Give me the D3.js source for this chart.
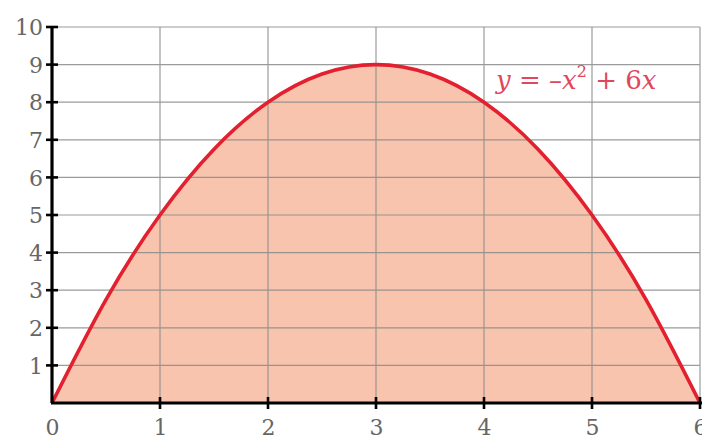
<!DOCTYPE html>
<html><head><meta charset="utf-8">
<script src="https://cdn.jsdelivr.net/npm/d3@7"></script>
<style>html,body{margin:0;padding:0;background:#fff;overflow:hidden}</style>
</head><body>
<svg id="c" width="702" height="436"></svg>
<script>
const xValues = [0, 0.5, 1, 1.5, 2, 2.5, 3, 3.5, 4, 4.5, 5, 5.5, 6];
const yValues = [0, 2.75, 5, 6.75, 8, 8.75, 9, 8.75, 8, 6.75, 5, 2.75, 0];
const xTicks = [0, 1, 2, 3, 4, 5, 6];
const yTicks = [1, 2, 3, 4, 5, 6, 7, 8, 9, 10];
const curveLabel = ["y", " = \u2013", "x", "2", " + 6", "x"];

const FONT = "DejaVu Serif";
const svg = d3.select("#c");
const L = 52, R = 700, T = 27, B = 403;
const x = d3.scaleLinear().domain([0, 6]).range([L, R]);
const y = d3.scaleLinear().domain([0, 10]).range([B, T]);
const pts = xValues.map((v, i) => [v, yValues[i]]);

svg.append("path")
  .datum(pts)
  .attr("d", d3.area().x(d => x(d[0])).y0(y(0)).y1(d => y(d[1])).curve(d3.curveNatural))
  .attr("fill", "#f9c4ae");

const grid = svg.append("g").attr("stroke", "#8a8a8a").attr("stroke-width", 1.2).attr("opacity", 0.85);
grid.selectAll("line.h").data(yTicks).join("line")
  .attr("x1", L).attr("x2", R).attr("y1", d => y(d)).attr("y2", d => y(d));
grid.selectAll("line.v").data(xTicks.filter(d => d > 0)).join("line")
  .attr("x1", d => x(d)).attr("x2", d => x(d)).attr("y1", T).attr("y2", B);

svg.append("path")
  .datum(pts)
  .attr("d", d3.line().x(d => x(d[0])).y(d => y(d[1])).curve(d3.curveNatural))
  .attr("fill", "none").attr("stroke", "#e3202f").attr("stroke-width", 3.6);

const yAxis = svg.append("g").attr("transform", `translate(${L},0)`)
  .call(d3.axisLeft(y).tickValues(yTicks).tickSize(0).tickFormat(d3.format("d")));
yAxis.attr("font-family", FONT).attr("font-size", 22);
yAxis.select(".domain").remove();
yAxis.selectAll("text").attr("x", -9).attr("dy", "0.35em").attr("fill", "#666");
svg.append("line").attr("x1", L).attr("x2", L).attr("y1", T - 1).attr("y2", B)
  .attr("stroke", "#000").attr("stroke-width", 3.2);
svg.append("g").selectAll("line").data(yTicks).join("line")
  .attr("x1", L - 6).attr("x2", L + 6).attr("y1", d => y(d)).attr("y2", d => y(d))
  .attr("stroke", "#000").attr("stroke-width", 2.6);

const xAxis = svg.append("g").attr("transform", `translate(0,${B})`)
  .call(d3.axisBottom(x).tickValues(xTicks).tickSize(0).tickFormat(d3.format("d")));
xAxis.attr("font-family", FONT).attr("font-size", 22);
xAxis.select(".domain").remove();
xAxis.selectAll("text").attr("y", 16).attr("dy", "0.71em").attr("fill", "#666");
svg.append("line").attr("x1", L - 1).attr("x2", R + 2).attr("y1", B).attr("y2", B)
  .attr("stroke", "#000").attr("stroke-width", 3.2);
svg.append("g").selectAll("line").data(xTicks.filter(d => d > 0)).join("line")
  .attr("x1", d => x(d)).attr("x2", d => x(d)).attr("y1", B - 6).attr("y2", B + 6)
  .attr("stroke", "#000").attr("stroke-width", 2.6);

const t = svg.append("text").attr("x", 496).attr("y", 89)
  .attr("font-family", FONT).attr("font-size", 26).attr("fill", "#e0475a");
t.append("tspan").attr("font-style", "italic").text(curveLabel[0]);
t.append("tspan").text(curveLabel[1]);
t.append("tspan").attr("font-style", "italic").text(curveLabel[2]);
t.append("tspan").attr("dy", -12).attr("font-size", 16).text(curveLabel[3]);
t.append("tspan").attr("dy", 12).text(curveLabel[4]);
t.append("tspan").attr("font-style", "italic").text(curveLabel[5]);
</script>
</body></html>
